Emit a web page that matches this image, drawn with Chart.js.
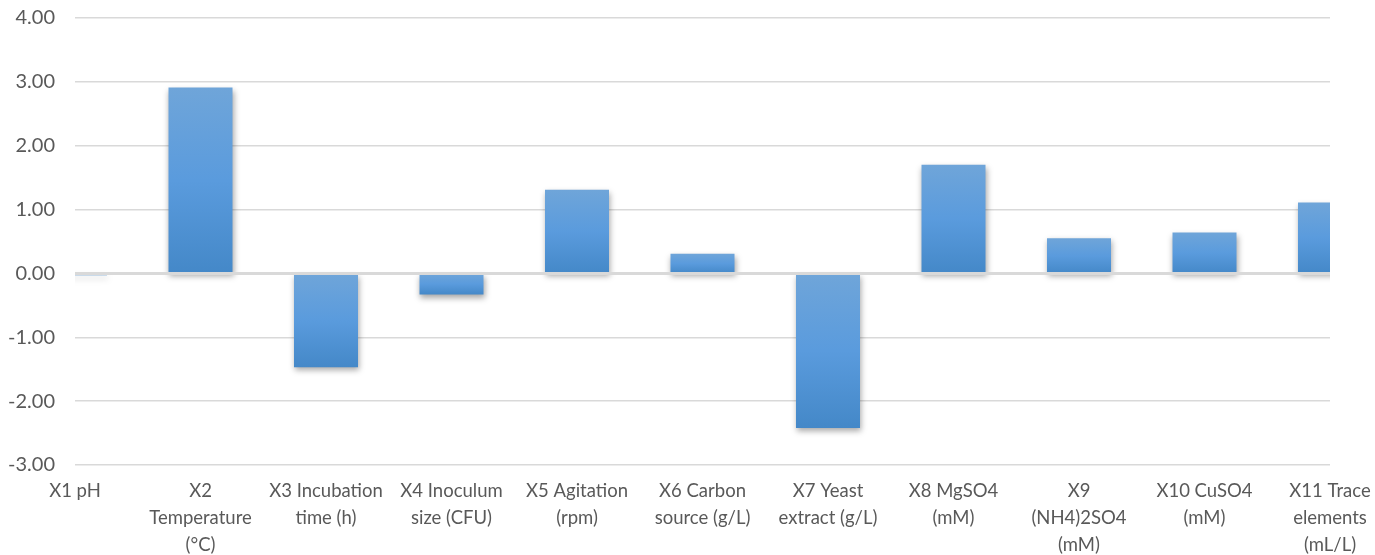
<!DOCTYPE html>
<html>
<head>
<meta charset="utf-8">
<script src="https://cdn.jsdelivr.net/npm/chart.js@4.4.1/dist/chart.umd.min.js"></script>
<style>
  html, body { margin: 0; padding: 0; background: #fff; }
  #wrap { width: 1375px; height: 555px; }
</style>
</head>
<body>
<div id="wrap"><canvas id="effectChart"></canvas></div>
<script>
// factor names (multi-line like the original axis)
const factors = [
  ["X1 pH"],
  ["X2", "Temperature", "(°C)"],
  ["X3 Incubation", "time (h)"],
  ["X4 Inoculum", "size (CFU)"],
  ["X5 Agitation", "(rpm)"],
  ["X6 Carbon", "source (g/L)"],
  ["X7 Yeast", "extract (g/L)"],
  ["X8 MgSO4", "(mM)"],
  ["X9", "(NH4)2SO4", "(mM)"],
  ["X10 CuSO4", "(mM)"],
  ["X11 Trace", "elements", "(mL/L)"]
];

// effect values
const effects = [-0.03, 2.91, -1.47, -0.33, 1.31, 0.31, -2.42, 1.70, 0.55, 0.64, 1.11];

// y axis range / steps
const yMin = -3;
const yMax = 4;
const yStep = 1;

const FONT = "Lato, 'Open Sans', sans-serif";

// gradient per bar, light at the top, darker at the bottom
function barGradient(context) {
  const chart = context.chart;
  const y = chart.scales.y;
  if (!chart.chartArea || !y || context.raw === undefined) return "#5b9bd5";
  const p1 = y.getPixelForValue(context.raw);
  const p0 = y.getPixelForValue(0);
  const top = Math.min(p0, p1), bottom = Math.max(p0, p1);
  if (bottom - top < 1) return "#4a8ccb";
  const g = chart.ctx.createLinearGradient(0, top, 0, bottom);
  g.addColorStop(0, "#6fa5d9");
  g.addColorStop(0.5, "#5a9bdd");
  g.addColorStop(1, "#4488c8");
  return g;
}

// soft drop shadow under the bars, then zero line over them
const barShadow = {
  id: "barShadow",
  beforeDatasetsDraw(chart) {
    const ctx = chart.ctx;
    ctx.save();
    ctx.shadowColor = "rgba(0,0,0,0.35)";
    ctx.shadowBlur = 6;
    ctx.shadowOffsetX = 1;
    ctx.shadowOffsetY = 3;
  },
  afterDatasetsDraw(chart) {
    const ctx = chart.ctx;
    ctx.restore();
    const y0 = chart.scales.y.getPixelForValue(0);
    ctx.save();
    ctx.strokeStyle = "#d9d9d9";
    ctx.lineWidth = 3;
    ctx.beginPath();
    ctx.moveTo(chart.chartArea.left, y0);
    ctx.lineTo(chart.chartArea.right, y0);
    ctx.stroke();
    ctx.restore();
  }
};

const ctx = document.getElementById("effectChart").getContext("2d");
const effectChart = new Chart(ctx, {
  type: "bar",
  data: {
    labels: factors,
    datasets: [{
      data: effects,
      backgroundColor: barGradient,
      borderWidth: 0,
      barPercentage: 0.51,
      categoryPercentage: 1,
      clip: 0
    }]
  },
  plugins: [barShadow],
  options: {
    responsive: true,
    maintainAspectRatio: false,
    animation: false,
    layout: {
      padding: { top: 18, right: 45, bottom: 0, left: 0 }
    },
    plugins: {
      legend: { display: false },
      tooltip: { enabled: false }
    },
    scales: {
      x: {
        offset: false,
        grid: { display: false },
        border: { display: false },
        ticks: {
          color: "#595959",
          font: { family: FONT, size: 18.5, lineHeight: 1.44 },
          padding: 5,
          maxRotation: 0,
          autoSkip: false
        },
        afterFit: (s) => {
          s.height = 90;
          s.paddingLeft = 0;
          s.paddingRight = 0;
        }
      },
      y: {
        min: yMin,
        max: yMax,
        border: { display: false },
        grid: {
          color: "#d9d9d9",
          lineWidth: 1.5,
          drawTicks: false
        },
        ticks: {
          stepSize: yStep,
          color: "#595959",
          font: { family: FONT, size: 20 },
          padding: 20,
          callback: (v) => Number(v).toFixed(2)
        },
        afterFit: (s) => {
          s.width = 75;
          s.paddingTop = 0;
          s.paddingBottom = 0;
        }
      }
    }
  }
});
</script>
</body>
</html>
